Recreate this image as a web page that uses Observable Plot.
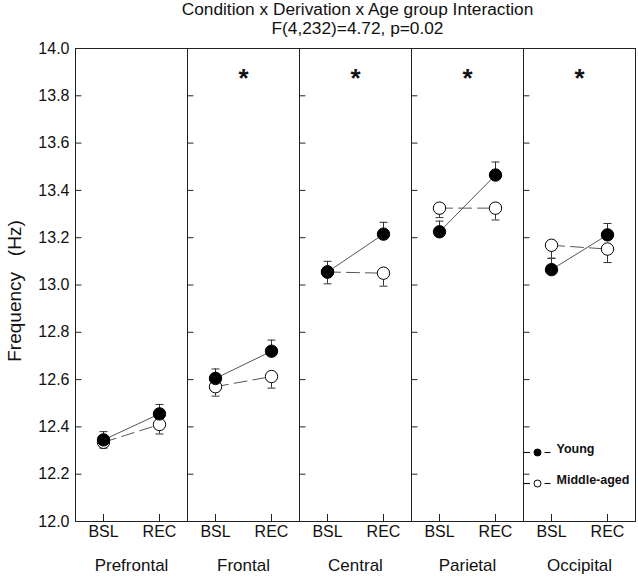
<!DOCTYPE html>
<html><head><meta charset="utf-8">
<script src="https://cdn.jsdelivr.net/npm/d3@7"></script>
<script src="https://cdn.jsdelivr.net/npm/@observablehq/plot@0.6"></script>
<style>
body{margin:0;background:#fff;font-family:"Liberation Sans",Arial,sans-serif;}
#title{position:relative;height:40px;width:638px;}
#title div{position:absolute;left:76px;width:563px;text-align:center;font-size:17.3px;line-height:19px;color:#111}
#chart svg{display:block;font-family:"Liberation Sans",Arial,sans-serif;}
</style></head><body>
<div id="title"><div style="top:0px">Condition x Derivation x Age group Interaction</div><div style="top:19px">F(4,232)=4.72, p=0.02</div></div>
<div id="chart"></div>
<script>
const regions = ["Prefrontal", "Frontal", "Central", "Parietal", "Occipital"];
const conditions = ["BSL", "REC"];
const groups = ["Young", "Middle-aged"];
const sigRegions = ["Frontal", "Central", "Parietal", "Occipital"];
const yTicks = [12.0, 12.2, 12.4, 12.6, 12.8, 13.0, 13.2, 13.4, 13.6, 13.8, 14.0];
const yLabel = "Frequency\u00a0\u00a0 (Hz)";

const youngBSL   = [12.345, 12.605, 13.055, 13.225, 13.065];
const youngREC   = [12.455, 12.720, 13.215, 13.465, 13.212];
const youngBSLse = [0.035, 0.040, 0.045, 0.045, 0.048];
const youngRECse = [0.040, 0.047, 0.050, 0.055, 0.048];
const middleBSL   = [12.335, 12.570, 13.055, 13.325, 13.168];
const middleREC   = [12.410, 12.613, 13.050, 13.325, 13.152];
const middleBSLse = [0.025, 0.040, 0.050, 0.040, 0.055];
const middleRECse = [0.040, 0.049, 0.055, 0.050, 0.057];

const rows = [];
regions.forEach((r, i) => {
  rows.push({region: r, cond: "BSL", group: "Young", value: youngBSL[i], se: youngBSLse[i], dir: 1});
  rows.push({region: r, cond: "REC", group: "Young", value: youngREC[i], se: youngRECse[i], dir: 1});
  rows.push({region: r, cond: "BSL", group: "Middle-aged", value: middleBSL[i], se: middleBSLse[i], dir: -1});
  rows.push({region: r, cond: "REC", group: "Middle-aged", value: middleREC[i], se: middleRECse[i], dir: -1});
});
const young = rows.filter(d => d.group === "Young");
const middle = rows.filter(d => d.group === "Middle-aged");

const W = 638, H = 537, mL = 73, mR = 2, mT = 8, mB = 56;
const facetW = (W - mL - mR) / regions.length;
const facetH = H - mT - mB;
const tickLen = 7;
const ink = "#222";

const capSymbol = {draw(ctx) { ctx.moveTo(-4, 0); ctx.lineTo(4, 0); }};
const dashSymbol = {draw(ctx) { ctx.moveTo(-3, 0); ctx.lineTo(3, 0); }};

function legendMarks(i) {
  const dy = -69 + i * 31;
  const fx = () => "Occipital";
  const opts = {fx, frameAnchor: "bottom-left", dy};
  return [
    Plot.dot([groups[i]], {...opts, dx: 3.5, symbol: dashSymbol, stroke: "#111", fill: "none", strokeWidth: 1.1}),
    Plot.dot([groups[i]], {...opts, dx: 24, symbol: dashSymbol, stroke: "#111", fill: "none", strokeWidth: 1.1}),
    Plot.dot([groups[i]], {...opts, dx: 14, r: 3.5, fill: i === 0 ? "black" : "white", stroke: "black", strokeWidth: 1}),
    Plot.text([groups[i]], {...opts, dx: 33, text: d => d, textAnchor: "start", fontSize: 12.5, fontWeight: "bold", fill: "#111"})
  ];
}

const chart = Plot.plot({
  width: W, height: H,
  marginLeft: mL, marginRight: mR, marginTop: mT, marginBottom: mB,
  style: {fontFamily: "'Liberation Sans', Arial, sans-serif", color: "#111", background: "white"},
  fx: {domain: regions, padding: 0},
  x: {type: "point", domain: conditions, padding: 0.5},
  y: {domain: [12, 14]},
  marks: [
    Plot.frame({stroke: ink}),
    Plot.tickY(yTicks, {y: d => d, insetRight: facetW - tickLen, stroke: ink}),
    Plot.tickX(conditions, {x: d => d, insetTop: facetH - tickLen, stroke: ink}),
    Plot.line(young, {fx: "region", x: "cond", y: "value", stroke: "#555", strokeWidth: 1}),
    Plot.line(middle, {fx: "region", x: "cond", y: "value", stroke: "#555", strokeWidth: 1, strokeDasharray: "13,6"}),
    Plot.ruleX(rows, {fx: "region", x: "cond", y1: "value", y2: d => d.value + d.dir * d.se, stroke: "#333", strokeWidth: 1}),
    Plot.dot(rows, {fx: "region", x: "cond", y: d => d.value + d.dir * d.se, symbol: capSymbol, stroke: "#333", fill: "none", strokeWidth: 1}),
    Plot.dot(middle, {fx: "region", x: "cond", y: "value", r: 6.2, fill: "white", stroke: "black", strokeWidth: 1}),
    Plot.dot(young, {fx: "region", x: "cond", y: "value", r: 6.2, fill: "black", stroke: "black", strokeWidth: 1}),
    Plot.text(sigRegions, {fx: d => d, text: () => "*", frameAnchor: "top", dy: 20, fontSize: 26, fontWeight: "bold", fill: "#111"}),
    Plot.axisY({ticks: yTicks, tickSize: 0, tickPadding: 6, tickFormat: d3.format(".1f"), fontSize: 16, label: null}),
    Plot.axisX({tickSize: 0, tickPadding: 4, fontSize: 16, label: null}),
    Plot.axisFx({anchor: "bottom", tickSize: 0, tickPadding: 37, fontSize: 17, label: null}),
    Plot.text([yLabel], {fx: () => "Prefrontal", frameAnchor: "left", textAnchor: "middle", rotate: -90, dx: -61, dy: 6, text: d => d, fontSize: 19, fill: "#111"}),
    ...legendMarks(0),
    ...legendMarks(1)
  ]
});
document.getElementById("chart").appendChild(chart);
</script>
</body></html>
